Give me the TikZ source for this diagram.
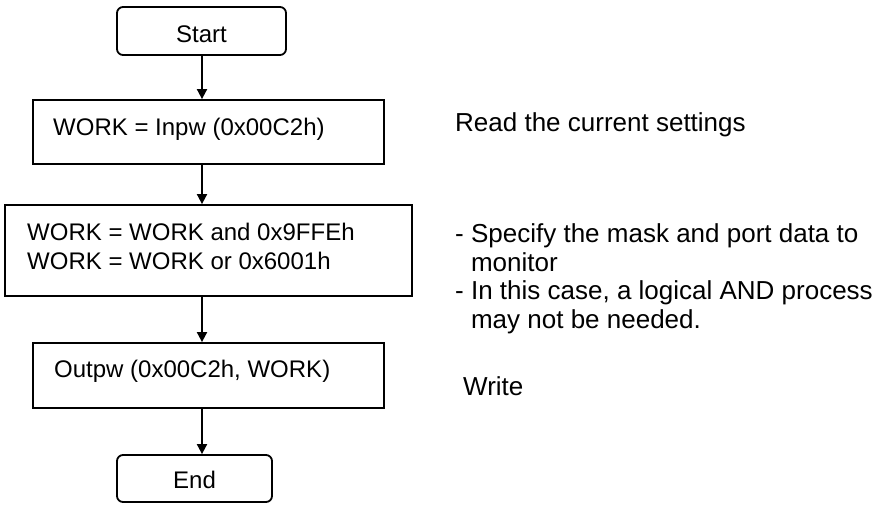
\documentclass[tikz,border=0pt]{standalone}
\usepackage{fontspec}
\setmainfont{Liberation Sans}
\usetikzlibrary{arrows.meta}
\begin{document}
\begin{tikzpicture}[x=1pt,y=-1pt,
  box/.style={draw=black, line width=1.8pt, inner sep=0pt, fill=white},
  term/.style={box, rounded corners=6pt, font=\fontsize{24}{29}\selectfont, text depth=0pt},
  boxtxt/.style={inner sep=0pt, anchor=base west, align=left, font=\fontsize{24}{29}\selectfont},
  note/.style={inner sep=0pt, anchor=base west, align=left, font=\fontsize{26}{28.5}\selectfont},
  arr/.style={line width=1.8pt, -{Triangle[length=10pt,width=10pt]}}
]
\useasboundingbox (0,0) rectangle (880,504);

\node[term, minimum width=169pt, minimum height=48pt, text height=22pt] (st) at (201.5,31) {Start};
\node[box, minimum width=351pt, minimum height=64pt] (b1) at (208.5,132) {};
\node[box, minimum width=407pt, minimum height=91pt] (b2) at (208.5,250.5) {};
\node[box, minimum width=351pt, minimum height=65pt] (b3) at (208.5,375.5) {};
\node[term, minimum width=155pt, minimum height=47pt, text height=19pt] (en) at (194.5,478.5) {End};

\node[boxtxt] (t1) at (53,135) {WORK = Inpw (0x00C2h)};
\node[boxtxt] (t2) at (27,269) {WORK = WORK and 0x9FFEh\\WORK = WORK or 0x6001h};
\node[boxtxt] (t3) at (54,377) {Outpw (0x00C2h, WORK)};

\coordinate (trunk) at (202,0);
\draw[arr] (st.south -| trunk) -- (b1.north -| trunk);
\draw[arr] (b1.south -| trunk) -- (b2.north -| trunk);
\draw[arr] (b2.south -| trunk) -- (b3.north -| trunk);
\draw[arr] (b3.south -| trunk) -- (en.north -| trunk);

\node[note] (n1) at (455,131) {Read the current settings};
\node[note] (n2) at (455,328) {- Specify the mask and port data to\\\phantom{- }monitor\\- In this case, a logical AND process\\\phantom{- }may not be needed.};
\node[note] (n3) at (463,395) {Write};
\end{tikzpicture}
\end{document}
